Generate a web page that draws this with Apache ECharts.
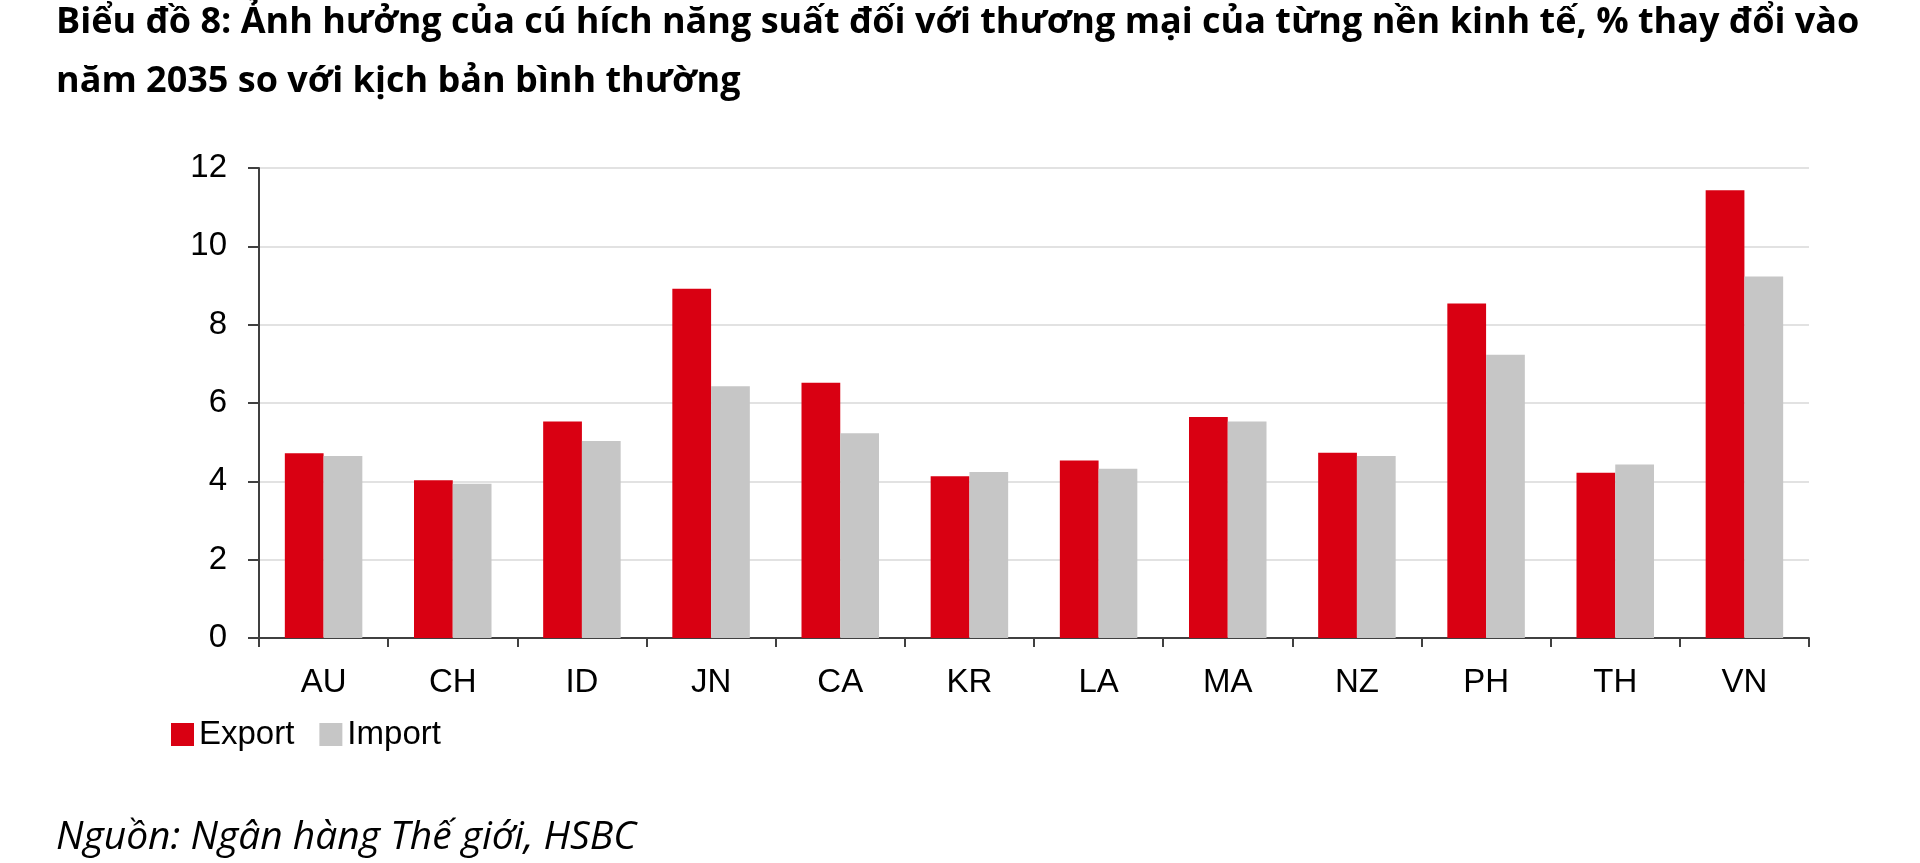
<!DOCTYPE html>
<html>
<head>
<meta charset="utf-8">
<script src="https://cdn.jsdelivr.net/npm/echarts@6/dist/echarts.min.js"></script>
<style>
  html, body { margin: 0; padding: 0; background: #fff; }
  #chart { width: 1920px; height: 863px; }
</style>
</head>
<body>
<div id="chart"></div>
<script>
// số liệu (% thay đổi năm 2035)
var categories = ['AU', 'CH', 'ID', 'JN', 'CA', 'KR', 'LA', 'MA', 'NZ', 'PH', 'TH', 'VN'];
var exportValues = [4.72, 4.03, 5.53, 8.92, 6.52, 4.13, 4.53, 5.64, 4.73, 8.54, 4.22, 11.43];
var importValues = [4.65, 3.94, 5.03, 6.43, 5.23, 4.24, 4.32, 5.53, 4.65, 7.23, 4.43, 9.23];
var seriesNames = ['Export', 'Import'];

var titleLine1 = 'Biểu đồ 8: Ảnh hưởng của cú hích năng suất đối với thương mại của từng nền kinh tế, % thay đổi vào';
var titleLine2 = 'năm 2035 so với kịch bản bình thường';
var sourceText = 'Nguồn: Ngân hàng Thế giới, HSBC';

var axisFont = '"Liberation Sans", Arial, sans-serif';

var myChart = echarts.init(document.getElementById('chart'));
myChart.setOption({
    animation: false,
    backgroundColor: '#ffffff',
    title: [
        {
            text: titleLine1, left: 51, top: 0,
            textStyle: { fontFamily: 'Open Sans', fontWeight: 'bold', fontSize: 36, color: '#000' }
        },
        {
            text: titleLine2, left: 51, top: 59,
            textStyle: { fontFamily: 'Open Sans', fontWeight: 'bold', fontSize: 36, color: '#000' }
        },
        {
            text: sourceText, left: 51, top: 813,
            textStyle: { fontFamily: 'Open Sans', fontStyle: 'italic', fontWeight: 'normal', fontSize: 39, color: '#000' }
        }
    ],
    legend: {
        left: 166, top: 713,
        itemWidth: 23, itemHeight: 23, itemGap: 25,
        icon: 'rect',
        data: seriesNames,
        textStyle: { fontFamily: axisFont, fontSize: 33, color: '#000' }
    },
    grid: { left: 259, right: 111, top: 168, bottom: 225, containLabel: false },
    xAxis: {
        type: 'category',
        data: categories,
        axisLine: { lineStyle: { color: '#404040', width: 2 } },
        axisTick: { show: true, length: 9, lineStyle: { color: '#404040', width: 2 } },
        axisLabel: { margin: 28, fontFamily: axisFont, fontSize: 33, color: '#000' }
    },
    yAxis: {
        type: 'value',
        min: 0, max: 12, interval: 2,
        axisLine: { show: true, lineStyle: { color: '#404040', width: 2 } },
        axisTick: { show: true, length: 11, lineStyle: { color: '#404040', width: 2 } },
        axisLabel: { margin: 32, fontFamily: axisFont, fontSize: 33, color: '#000' },
        splitLine: { lineStyle: { color: '#d9d9d9', width: 1.5 } }
    },
    series: [
        {
            name: seriesNames[0], type: 'bar', data: exportValues,
            barGap: '0%', barCategoryGap: '40%',
            itemStyle: { color: '#d90012' }
        },
        {
            name: seriesNames[1], type: 'bar', data: importValues,
            barGap: '0%', barCategoryGap: '40%',
            itemStyle: { color: '#c6c6c6' }
        }
    ]
});
</script>
</body>
</html>
